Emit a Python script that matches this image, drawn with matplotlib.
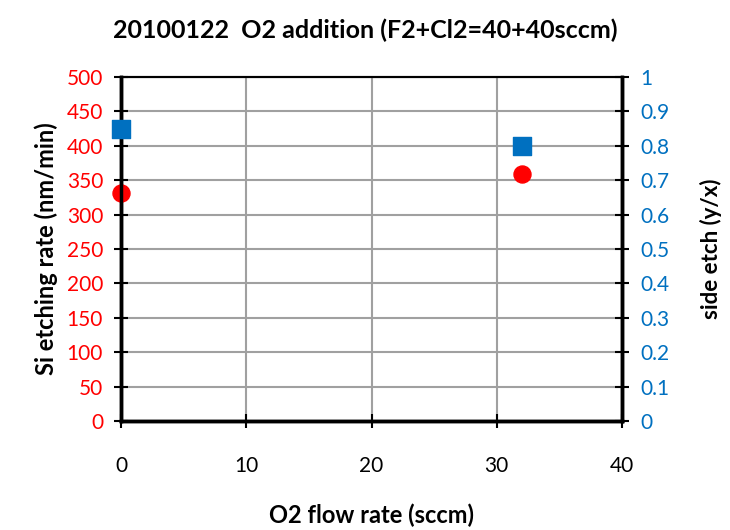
import matplotlib
matplotlib.use("Agg")
import matplotlib.pyplot as plt

# O2 addition test, F2+Cl2=40+40 sccm
o2_flow = [0, 32]
etch_rate = [331, 359]      # nm/min
side_etch = [0.85, 0.80]    # y/x

plt.rcParams["font.family"] = ["Lato", "DejaVu Sans"]

fig = plt.figure(figsize=(7.3, 5.3), dpi=100)
ax = fig.add_axes([0.166, 0.2057, 0.686, 0.649])
ax2 = ax.twinx()

ax.scatter(o2_flow, etch_rate, s=150, marker="o", color="#ff0000", zorder=3, clip_on=False)
ax2.scatter(o2_flow, side_etch, s=170, marker="s", color="#0070c0", zorder=3, clip_on=False)

ax.set_xlim(0, 40)
ax.set_ylim(0, 500)
ax2.set_ylim(0, 1)
ax.set_xticks(range(0, 41, 10))
ax.set_yticks(range(0, 501, 50))
ax2.set_yticks([i / 10 for i in range(11)])
ax2.set_yticklabels(["0"] + ["%.1f" % (i / 10) for i in range(1, 10)] + ["1"])

ax.grid(True, color="#a0a0a0", linewidth=1.5)
ax.set_axisbelow(True)

for a in (ax, ax2):
    for s in a.spines.values():
        s.set_linewidth(2.5)
        s.set_color("black")
    a.spines["top"].set_linewidth(1.5)

ax.tick_params(axis="x", direction="inout", length=10, width=1.5, pad=20, labelsize=15)
ax.tick_params(axis="y", direction="inout", length=10, width=1.5, labelsize=15, labelcolor="#ff0000", pad=8)
ax2.tick_params(axis="y", direction="inout", length=10, width=1.5, labelsize=15, labelcolor="#0070c0", pad=8)

ax.set_xlabel("O2 flow rate (sccm)", fontsize=17, fontweight="bold", labelpad=20)
ax.set_ylabel("Si etching rate (nm/min)", fontsize=17, fontweight="bold", labelpad=6)
ax2.set_ylabel("side etch (y/x)", fontsize=16, fontweight="bold", labelpad=22)
fig.suptitle("20100122  O2 addition (F2+Cl2=40+40sccm)", fontsize=18, fontweight="bold", y=0.965)

fig.savefig("out.png", dpi=100)
